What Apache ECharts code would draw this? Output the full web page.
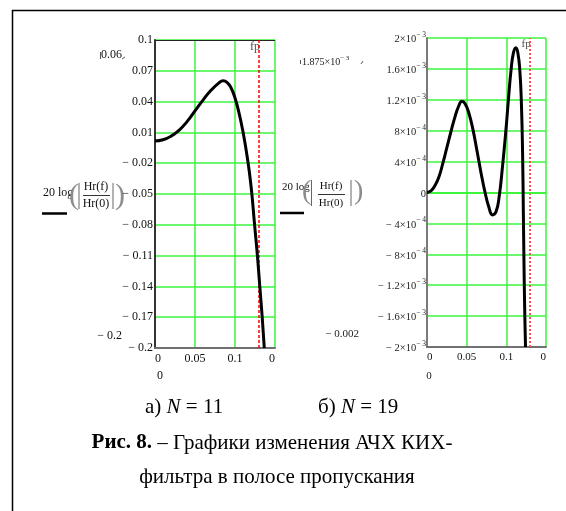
<!DOCTYPE html>
<html>
<head>
<meta charset="utf-8">
<script src="https://cdn.jsdelivr.net/npm/echarts@6/dist/echarts.min.js"></script>
<style>html,body{margin:0;padding:0;background:#fff;}#c{width:566px;height:511px;}</style>
</head>
<body>
<div id="c"></div>
<script>
// ---- data (N = 11) ----
const leftF = [0, 0.01, 0.02, 0.03, 0.04, 0.05, 0.06, 0.07, 0.08, 0.085, 0.09, 0.095, 0.1, 0.105, 0.11, 0.115, 0.12, 0.1245, 0.128, 0.131, 0.134, 0.1366];
const leftA = [0.0016, 0.0028, 0.0062, 0.012, 0.0205, 0.031, 0.0415, 0.051, 0.0583, 0.0602, 0.0588, 0.0535, 0.0435, 0.029, 0.0105, -0.0125, -0.042, -0.08, -0.11, -0.14, -0.17, -0.2];
// ---- data (N = 19) ----
const rightF = [0, 0.005, 0.01, 0.015, 0.02, 0.025, 0.03, 0.035, 0.04, 0.044, 0.048, 0.053, 0.058, 0.063, 0.068, 0.073, 0.078, 0.0825, 0.087, 0.091, 0.095, 0.0995, 0.103, 0.106, 0.109, 0.112, 0.1145, 0.117, 0.119, 0.1205, 0.1215, 0.1225, 0.1235, 0.1242];
const rightA = [0, 0.00002, 0.00009, 0.0002, 0.00038, 0.00058, 0.00078, 0.00097, 0.00112, 0.00118, 0.00115, 0.00102, 0.00081, 0.00054, 0.00026, 0.00001, -0.00019, -0.00029, -0.00025, -0.00005, 0.00032, 0.00081, 0.00125, 0.00159, 0.00181, 0.001875, 0.00181, 0.00158, 0.00115, 0.0005, -0.0003, -0.0011, -0.0017, -0.002];
const fp = 0.125;
// ---- ticks ----
const xTicks = [0, 0.05, 0.1, 0.15];
const xTickLabels = ['0', '0.05', '0.1', '0'];
const leftYTicks = [-0.2, -0.17, -0.14, -0.11, -0.08, -0.05, -0.02, 0.01, 0.04, 0.07, 0.1];
const leftYLabels = ['− 0.2', '− 0.17', '− 0.14', '− 0.11', '− 0.08', '− 0.05', '− 0.02', '0.01', '0.04', '0.07', '0.1'];
const rightYTicks = [-0.002, -0.0016, -0.0012, -0.0008, -0.0004, 0, 0.0004, 0.0008, 0.0012, 0.0016, 0.002];
const rightYLabels = ['{b|− 2×10}{s|− 3}', '{b|− 1.6×10}{s|− 3}', '{b|− 1.2×10}{s|− 3}', '{b|− 8×10}{s|− 4}', '{b|− 4×10}{s|− 4}', '{b|0}', '{b|4×10}{s|− 4}', '{b|8×10}{s|− 4}', '{b|1.2×10}{s|− 3}', '{b|1.6×10}{s|− 3}', '{b|2×10}{s|− 3}'];

const SERIF = "'Liberation Serif','Times New Roman',serif";
function nearestLabel(ticks, labels, v) {
  let bi = 0, bd = Infinity;
  ticks.forEach((t, i) => { const d = Math.abs(t - v); if (d < bd) { bd = d; bi = i; } });
  return labels[bi];
}
const GREEN = '#3cf53c';

function xAxisBottom(gi) {
  return {
    type: 'value', gridIndex: gi, min: 0, max: 0.15, interval: 0.05,
    axisLine: {show: true, onZero: false, lineStyle: {color: '#707070', width: 2}},
    axisTick: {show: false},
    splitLine: {show: true, lineStyle: {color: GREEN, width: 1.5}},
    axisLabel: {color: '#111', fontFamily: SERIF, fontSize: gi === 0 ? 12 : 11, margin: 5,
      alignMinLabel: 'left', alignMaxLabel: 'right',
      formatter: v => nearestLabel(xTicks, xTickLabels, v)}
  };
}

const leftData = leftF.map((f, i) => [f, leftA[i]]);
const rightData = rightF.map((f, i) => [f, rightA[i]]);

const chart = echarts.init(document.getElementById('c'), null, {renderer: 'canvas'});

function txt(x, y, text, opt) {
  return Object.assign({type: 'text', x: x, y: y, style: Object.assign({text: text, fill: '#111', font: '12px ' + SERIF, textVerticalAlign: 'middle'}, opt || {})});
}
function ln(x1, y1, x2, y2, color, w) {
  return {type: 'line', shape: {x1: x1, y1: y1, x2: x2, y2: y2}, style: {stroke: color, lineWidth: w}};
}

const graphics = [
  {type: 'rect', shape: {x: 12.5, y: 10.5, width: 620, height: 620}, style: {fill: null, stroke: '#000', lineWidth: 1.5}},
  // left y title
  txt(43, 193, '20 log', {font: '12px ' + SERIF}),
  txt(69, 196, '(', {font: '30px ' + SERIF, fill: '#8c8c8c'}),
  ln(79, 183, 79, 209, '#666', 1),
  txt(96, 187, 'Hr(f)', {textAlign: 'center'}),
  ln(83, 195.5, 110, 195.5, '#333', 1),
  txt(96, 204, 'Hr(0)', {textAlign: 'center'}),
  ln(113, 183, 113, 209, '#666', 1),
  txt(115, 196, ')', {font: '30px ' + SERIF, fill: '#8c8c8c'}),
  ln(42, 213.5, 67, 213.5, '#000', 2.5),
  // right y title
  txt(282, 187, '20 log', {font: '11px ' + SERIF}),
  txt(302, 192, '(', {font: '28px ' + SERIF, fill: '#8c8c8c'}),
  ln(311.5, 180, 311.5, 206, '#666', 1),
  txt(331, 186, 'Hr(f)', {textAlign: 'center', font: '11px ' + SERIF}),
  ln(318, 194.5, 345, 194.5, '#333', 1),
  txt(331, 203, 'Hr(0)', {textAlign: 'center', font: '11px ' + SERIF}),
  ln(351, 180, 351, 206, '#666', 1),
  txt(354, 192, ')', {font: '28px ' + SERIF, fill: '#8c8c8c'}),
  ln(280, 213, 304, 213, '#000', 2.5),
  // left annotations
  txt(101, 55, '0.06', {font: '12px ' + SERIF}),
  ln(100.5, 52, 100.5, 59, '#555', 1),
  ln(122, 59, 125, 57, '#555', 1),
  txt(122, 336, '− 0.2', {textAlign: 'right', font: '12px ' + SERIF}),
  txt(160, 376, '0', {textAlign: 'center', font: '12px ' + SERIF}),
  // right annotations
  txt(302, 61, '{b|1.875×10}{s|− 3}', {font: '10px ' + SERIF, rich: {b: {fontSize: 10, fontFamily: SERIF, lineHeight: 13, verticalAlign: 'bottom', fill: '#222'}, s: {fontSize: 7, fontFamily: SERIF, lineHeight: 13, verticalAlign: 'top', fill: '#222'}}}),
  ln(300.5, 60, 300.5, 64, '#555', 1),
  ln(361, 64, 363, 61, '#555', 1),
  txt(359, 334, '− 0.002', {textAlign: 'right', font: '11px ' + SERIF, fill: '#222'}),
  txt(429, 376, '0', {textAlign: 'center', font: '11px ' + SERIF, fill: '#222'}),
  // captions
  txt(145, 407, '{a|а) }{i|N}{a| = 11}', {rich: {a: {fontSize: 21, fontFamily: SERIF, fill: '#000'}, i: {fontSize: 21, fontFamily: SERIF, fontStyle: 'italic', fill: '#000'}}}),
  txt(318, 407, '{a|б) }{i|N}{a| = 19}', {rich: {a: {fontSize: 21, fontFamily: SERIF, fill: '#000'}, i: {fontSize: 21, fontFamily: SERIF, fontStyle: 'italic', fill: '#000'}}}),
  txt(272, 443, '{b|Рис. 8.}{a| – Графики изменения АЧХ КИХ-}', {textAlign: 'center', rich: {a: {fontSize: 21, fontFamily: SERIF, fill: '#000'}, b: {fontSize: 21, fontFamily: SERIF, fontWeight: 'bold', fill: '#000'}}}),
  txt(277, 477, 'фильтра в полосе пропускания', {textAlign: 'center', font: '21px ' + SERIF, fill: '#000'})
];

const option = {
  animation: false,
  backgroundColor: '#fff',
  grid: [
    {left: 155, top: 40, width: 120, height: 308, containLabel: false},
    {left: 427, top: 38, width: 119, height: 309, containLabel: false}
  ],
  xAxis: [xAxisBottom(0), xAxisBottom(1)],
  yAxis: [
    {type: 'value', gridIndex: 0, min: -0.2, max: 0.1, interval: 0.03,
      axisLine: {show: true, onZero: false, lineStyle: {color: '#333', width: 2}},
      axisTick: {show: false},
      splitLine: {show: true, lineStyle: {color: GREEN, width: 1.5}},
      axisLabel: {color: '#111', fontFamily: SERIF, fontSize: 12, margin: 2,
        formatter: v => nearestLabel(leftYTicks, leftYLabels, v)}},
    {type: 'value', gridIndex: 1, min: -0.002, max: 0.002, interval: 0.0004,
      axisLine: {show: true, onZero: false, lineStyle: {color: '#7a7a7a', width: 2}},
      axisTick: {show: false},
      splitLine: {show: true, lineStyle: {color: GREEN, width: 1.5}},
      axisLabel: {color: '#222', margin: 1,
        formatter: v => nearestLabel(rightYTicks, rightYLabels, v),
        rich: {b: {fontSize: 10.5, fontFamily: SERIF, lineHeight: 14, verticalAlign: 'bottom', color: '#222'},
               s: {fontSize: 7.5, fontFamily: SERIF, lineHeight: 14, verticalAlign: 'top', color: '#222'}}}}
  ],
  series: [
    {type: 'line', xAxisIndex: 0, yAxisIndex: 0, data: leftData, smooth: true, showSymbol: false,
      lineStyle: {color: '#000', width: 3}, z: 5,
      markLine: {silent: true, symbol: 'none', label: {show: false}, lineStyle: {color: '#222', type: 'solid', width: 1}, data: [{yAxis: 0.1}]}},
    {type: 'line', xAxisIndex: 1, yAxisIndex: 1, data: rightData, smooth: true, showSymbol: false,
      lineStyle: {color: '#000', width: 3}, z: 5,
      markLine: {silent: true, symbol: 'none', label: {show: false}, lineStyle: {color: '#8a8a8a', type: 'solid', width: 2}, data: [{yAxis: 0.002}]}},
    {type: 'scatter', xAxisIndex: 0, yAxisIndex: 0, data: [[fp, 0.1]], symbolSize: 0, silent: true, z: 2,
      label: {show: true, formatter: 'fp', position: 'bottom', distance: 1, color: '#222', fontFamily: SERIF, fontSize: 12},
      markLine: {silent: true, symbol: 'none', label: {show: false}, lineStyle: {color: '#ff0000', type: [3, 2], width: 1.5}, data: [{xAxis: fp}]}},
    {type: 'scatter', xAxisIndex: 1, yAxisIndex: 1, data: [[fp, 0.002]], symbolSize: 0, silent: true, z: 2,
      label: {show: true, formatter: 'fp', position: 'bottom', distance: 1, color: '#222', fontFamily: SERIF, fontSize: 11},
      markLine: {silent: true, symbol: 'none', label: {show: false}, lineStyle: {color: '#ff5050', type: [2, 2], width: 2}, data: [{xAxis: fp}]}},
    {type: 'scatter', xAxisIndex: 1, yAxisIndex: 1, data: [], silent: true, z: 1,
      markLine: {silent: true, symbol: 'none', label: {show: false}, lineStyle: {color: GREEN, type: 'solid', width: 2}, data: [{yAxis: 0}]}}
  ],
  graphic: graphics
};
chart.setOption(option);
</script>
</body>
</html>
